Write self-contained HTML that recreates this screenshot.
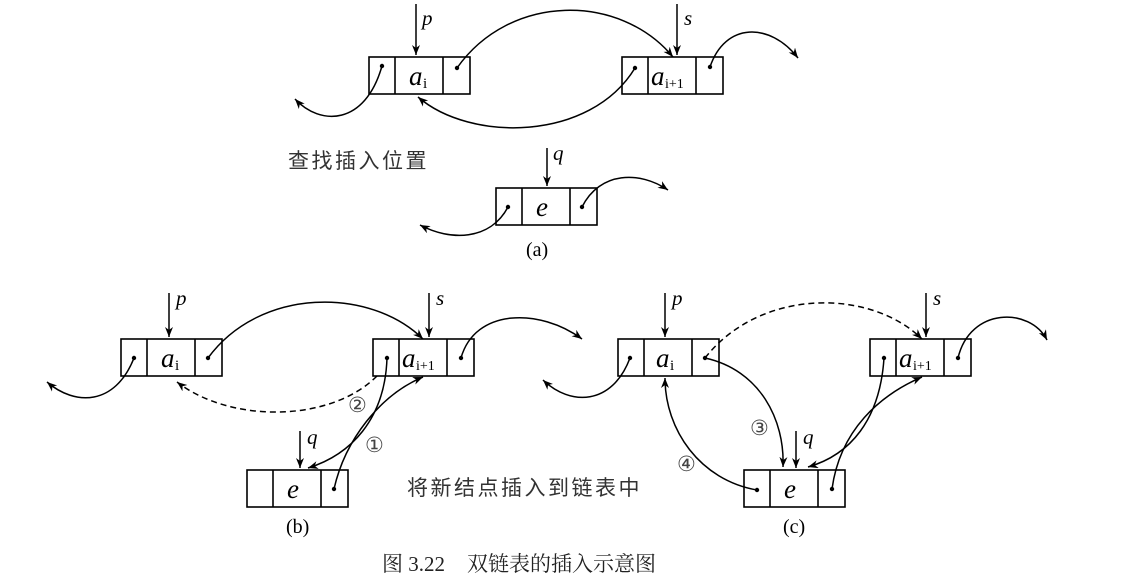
<!DOCTYPE html>
<html><head><meta charset="utf-8"><style>
html,body{margin:0;padding:0;background:#fff;}
svg{display:block;}
.b{fill:#fff;stroke:#000;stroke-width:1.6;}
.c{fill:none;stroke:#000;stroke-width:1.5;}
.d{fill:none;stroke:#000;stroke-width:1.5;stroke-dasharray:6 4;}
.t{font-family:"Liberation Serif",serif;}
.cn{font-family:"Liberation Sans","Noto Sans CJK SC",sans-serif;font-size:21px;fill:#333;letter-spacing:2.5px;}
</style></head><body>
<svg width="1122" height="576" viewBox="0 0 1122 576" xmlns="http://www.w3.org/2000/svg">
<defs>
<marker id="ar" markerUnits="userSpaceOnUse" markerWidth="12" markerHeight="10" refX="10" refY="4" orient="auto">
<path d="M0,0 L10,4 L0,8 L3,4 Z" fill="#000"/></marker>
<g id="node"><rect class="b" x="0" y="0" width="101" height="37"/><line class="b" x1="26" y1="0" x2="26" y2="37"/><line class="b" x1="74" y1="0" x2="74" y2="37"/></g>
</defs>

<!-- (a) -->
<use href="#node" x="369" y="57"/>
<use href="#node" x="622" y="57"/>
<use href="#node" x="496" y="188"/>
<text class="t" x="409" y="85" font-size="27" font-style="italic">a</text><text class="t" x="423" y="88" font-size="15">i</text>
<text class="t" x="651" y="85" font-size="27" font-style="italic">a</text><text class="t" x="665" y="88" font-size="14">i+1</text>
<text class="t" x="536" y="216" font-size="27" font-style="italic">e</text>
<line class="c" x1="416" y1="4" x2="416" y2="55" marker-end="url(#ar)"/>
<text class="t" x="422" y="25" font-size="21" font-style="italic">p</text>
<line class="c" x1="677" y1="4" x2="677" y2="55" marker-end="url(#ar)"/>
<text class="t" x="684" y="25" font-size="21" font-style="italic">s</text>
<line class="c" x1="547" y1="148" x2="547" y2="186" marker-end="url(#ar)"/>
<text class="t" x="553" y="160" font-size="21" font-style="italic">q</text>
<path class="c" d="M457,68 C510,-7 620,-7 673,57" marker-end="url(#ar)"/>
<path class="c" d="M635,68 C590,142 470,142 418,97" marker-end="url(#ar)"/>
<path class="c" d="M382,66 C365,126 320,126 295,99" marker-end="url(#ar)"/>
<path class="c" d="M710,67 C725,22 770,22 798,58" marker-end="url(#ar)"/>
<path class="c" d="M508,207 C490,241 450,241 420,225" marker-end="url(#ar)"/>
<path class="c" d="M582,207 C600,171 640,171 668,190" marker-end="url(#ar)"/>
<g fill="#000"><circle cx="457" cy="68" r="2.2"/><circle cx="635" cy="68" r="2.2"/><circle cx="382" cy="66" r="2.2"/><circle cx="710" cy="67" r="2.2"/><circle cx="508" cy="207" r="2.2"/><circle cx="582" cy="207" r="2.2"/></g>
<text class="cn" x="288" y="168">查找插入位置</text>
<text class="t" x="526" y="256" font-size="20">(a)</text>

<!-- (b) -->
<use href="#node" x="121" y="339"/>
<use href="#node" x="373" y="339"/>
<use href="#node" x="247" y="470"/>
<text class="t" x="161" y="367" font-size="27" font-style="italic">a</text><text class="t" x="175" y="370" font-size="15">i</text>
<text class="t" x="402" y="367" font-size="27" font-style="italic">a</text><text class="t" x="416" y="370" font-size="14">i+1</text>
<text class="t" x="287" y="498" font-size="27" font-style="italic">e</text>
<line class="c" x1="169" y1="293" x2="169" y2="337" marker-end="url(#ar)"/>
<text class="t" x="176" y="305" font-size="21" font-style="italic">p</text>
<line class="c" x1="429" y1="293" x2="429" y2="337" marker-end="url(#ar)"/>
<text class="t" x="436" y="305" font-size="21" font-style="italic">s</text>
<line class="c" x1="300" y1="431" x2="300" y2="468" marker-end="url(#ar)"/>
<text class="t" x="307" y="444" font-size="21" font-style="italic">q</text>
<path class="c" d="M208,358 C260,287 370,287 423,339" marker-end="url(#ar)"/>
<path class="c" d="M134,358 C115,406 75,406 47,382" marker-end="url(#ar)"/>
<path class="c" d="M461,358 C475,308 540,308 582,339" marker-end="url(#ar)"/>
<path class="d" d="M377,376 C330,423 230,423 177,382" marker-end="url(#ar)"/>
<path class="c" d="M387,358 C385,420 350,455 308,468" marker-end="url(#ar)"/>
<path class="c" d="M334,489 C345,440 380,395 423,377" marker-end="url(#ar)"/>
<g fill="#000"><circle cx="208" cy="358" r="2.2"/><circle cx="134" cy="358" r="2.2"/><circle cx="461" cy="358" r="2.2"/><circle cx="387" cy="358" r="2.2"/><circle cx="334" cy="489" r="2.2"/></g>
<text class="t" x="348" y="412" font-size="21" fill="#444">②</text>
<text class="t" x="365" y="452" font-size="21" fill="#444">①</text>
<text class="t" x="286" y="533" font-size="20">(b)</text>
<text class="cn" x="407" y="495">将新结点插入到链表中</text>

<!-- (c) -->
<use href="#node" x="618" y="339"/>
<use href="#node" x="870" y="339"/>
<use href="#node" x="744" y="470"/>
<text class="t" x="656" y="367" font-size="27" font-style="italic">a</text><text class="t" x="670" y="370" font-size="15">i</text>
<text class="t" x="899" y="367" font-size="27" font-style="italic">a</text><text class="t" x="913" y="370" font-size="14">i+1</text>
<text class="t" x="784" y="498" font-size="27" font-style="italic">e</text>
<line class="c" x1="665" y1="293" x2="665" y2="337" marker-end="url(#ar)"/>
<text class="t" x="672" y="305" font-size="21" font-style="italic">p</text>
<line class="c" x1="926" y1="293" x2="926" y2="337" marker-end="url(#ar)"/>
<text class="t" x="933" y="305" font-size="21" font-style="italic">s</text>
<line class="c" x1="796" y1="431" x2="796" y2="468" marker-end="url(#ar)"/>
<text class="t" x="803" y="444" font-size="21" font-style="italic">q</text>
<path class="c" d="M630,358 C612,406 570,406 543,380" marker-end="url(#ar)"/>
<path class="d" d="M705,358 C760,288 870,288 922,339" marker-end="url(#ar)"/>
<path class="c" d="M705,358 C760,370 785,420 783,467" marker-end="url(#ar)"/>
<path class="c" d="M757,490 C700,480 665,430 665,378" marker-end="url(#ar)"/>
<path class="c" d="M884,358 C880,420 850,455 808,467" marker-end="url(#ar)"/>
<path class="c" d="M832,489 C840,430 880,395 922,377" marker-end="url(#ar)"/>
<path class="c" d="M958,358 C970,307 1030,307 1047,340" marker-end="url(#ar)"/>
<g fill="#000"><circle cx="630" cy="358" r="2.2"/><circle cx="705" cy="358" r="2.2"/><circle cx="757" cy="490" r="2.2"/><circle cx="884" cy="358" r="2.2"/><circle cx="832" cy="489" r="2.2"/><circle cx="958" cy="358" r="2.2"/></g>
<text class="t" x="750" y="435" font-size="21" fill="#444">③</text>
<text class="t" x="677" y="471" font-size="21" fill="#444">④</text>
<text class="t" x="783" y="533" font-size="20">(c)</text>

<text x="382" y="571" font-family="Liberation Serif, Noto Serif CJK SC, serif" font-size="21" fill="#222">图 3.22<tspan dx="22">双链表的插入示意图</tspan></text>
</svg>
</body></html>
